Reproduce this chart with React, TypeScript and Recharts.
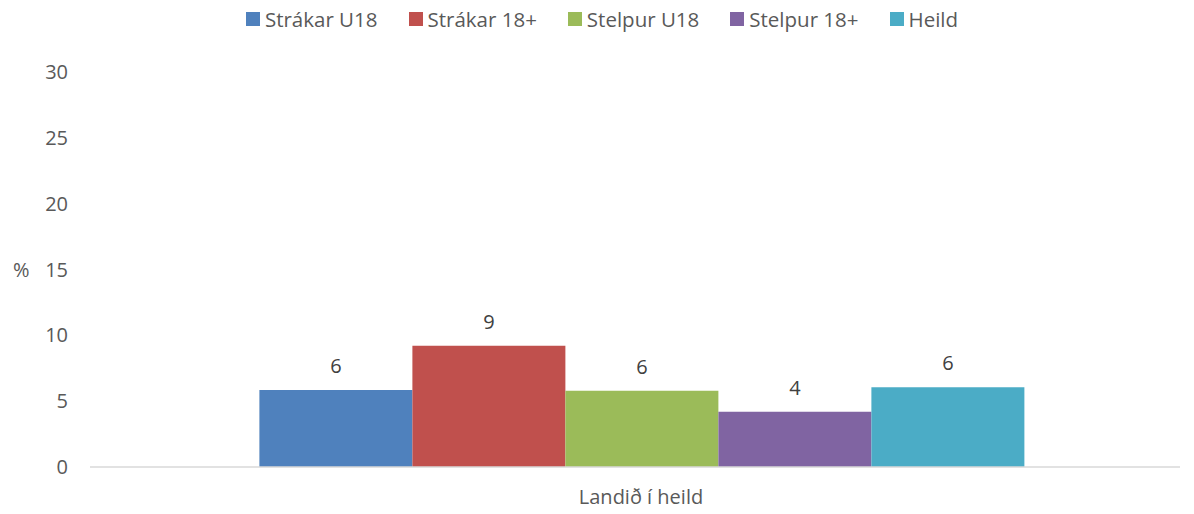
import { BarChart, Bar, XAxis, YAxis, LabelList } from "recharts";

const categories = ["Landið í heild"];
const seriesNames = ["Strákar U18", "Strákar 18+", "Stelpur U18", "Stelpur 18+", "Heild"];
const seriesValues = [5.85, 9.2, 5.8, 4.2, 6.05];
const seriesColors = ["#4F81BD", "#C0504D", "#9BBB59", "#8064A2", "#4BACC6"];
const yTicks = [0, 5, 10, 15, 20, 25, 30];

const FONT = "'Open Sans', 'Noto Sans', sans-serif";

const data = categories.map((name) => {
  const row: Record<string, string | number> = { name };
  seriesNames.forEach((s, i) => { row[s] = seriesValues[i]; });
  return row;
});

function ChartLegend() {
  return (
    <div style={{
      position: "absolute", top: 6, left: 0, width: 1194, display: "flex",
      justifyContent: "center", gap: 31, fontFamily: FONT, fontSize: 20.5, color: "#595959",
      paddingLeft: 10, boxSizing: "border-box",
    }}>
      {seriesNames.map((s, i) => (
        <div key={s} style={{ display: "flex", alignItems: "center", gap: 5, lineHeight: "26px" }}>
          <span style={{ width: 14, height: 14, background: seriesColors[i], display: "inline-block" }} />
          <span>{s}</span>
        </div>
      ))}
    </div>
  );
}

export default function App() {
  return (
    <div style={{ position: "absolute", top: 0, left: 0, width: 1194, height: 514, background: "#fff" }}>
      <ChartLegend />
      <BarChart
        width={1194}
        height={514}
        data={data}
        margin={{ top: 72, right: 14, bottom: 7, left: 10 }}
        barCategoryGap="14.6%"
        barGap={0}
      >
        <XAxis
          dataKey="name"
          height={40}
          padding={{ left: 12, right: 0 }}
          axisLine={{ stroke: "#D9D9D9", strokeWidth: 1.5 }}
          tickLine={false}
          tickSize={0}
          tickMargin={23}
          tick={{ fontSize: 20, fill: "#595959", fontFamily: FONT }}
        />
        <YAxis
          width={80}
          domain={[0, 30]}
          ticks={yTicks}
          interval={0}
          axisLine={false}
          tickLine={false}
          tickSize={0}
          tickMargin={22}
          tick={{ fontSize: 20, fill: "#595959", fontFamily: FONT }}
          label={{ value: "%", position: "insideLeft", offset: 3, fontSize: 20, fill: "#595959", fontFamily: FONT }}
        />
        {seriesNames.map((s, i) => (
          <Bar key={s} dataKey={s} fill={seriesColors[i]} isAnimationActive={false}>
            <LabelList
              dataKey={s}
              position="top"
              offset={17}
              formatter={(v: any) => Math.round(Number(v))}
              style={{ fontSize: 20, fill: "#404040", fontFamily: FONT }}
            />
          </Bar>
        ))}
      </BarChart>
    </div>
  );
}
